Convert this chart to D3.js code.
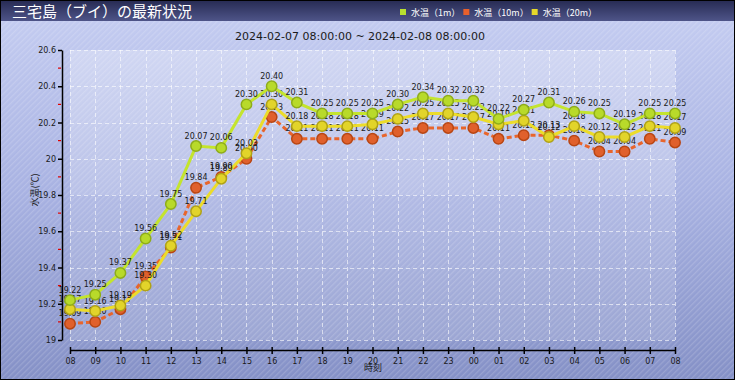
<!DOCTYPE html>
<html><head><meta charset="utf-8">
<script src="https://cdn.jsdelivr.net/npm/d3@7/dist/d3.min.js"></script>
<style>html,body{margin:0;padding:0;background:#fff}svg{display:block}</style>
</head><body><div id="chart"></div>
<script>
const hours = ["08","09","10","11","12","13","14","15","16","17","18","19","20","21","22","23","00","01","02","03","04","05","06","07","08"];
const temp1m  = [19.22,19.25,19.37,19.56,19.75,20.07,20.06,20.30,20.40,20.31,20.25,20.25,20.25,20.30,20.34,20.32,20.32,20.22,20.27,20.31,20.26,20.25,20.19,20.25,20.25];
const temp10m = [19.09,19.10,19.17,19.35,19.51,19.84,19.90,20.00,20.23,20.11,20.11,20.11,20.11,20.15,20.17,20.17,20.17,20.11,20.13,20.13,20.10,20.04,20.04,20.11,20.09];
const temp20m = [19.17,19.16,19.19,19.30,19.52,19.71,19.89,20.03,20.30,20.18,20.18,20.18,20.19,20.22,20.25,20.25,20.23,20.19,20.21,20.12,20.18,20.12,20.12,20.18,20.17];
const yTicks = [19,19.2,19.4,19.6,19.8,20,20.2,20.4,20.6];
const yTickLabels = ["19","19.2","19.4","19.6","19.8","20","20.2","20.4","20.6"];
const yMinor = [19.1,19.3,19.5,19.7,19.9,20.1,20.3,20.5];
const seriesNames = ["水温（1m）","水温（10m）","水温（20m）"];
const titleText = "三宅島（ブイ）の最新状況";
const subtitleText = "2024-02-07 08:00:00 ~ 2024-02-08 08:00:00";

const W = 735, H = 380;
const svg = d3.select("#chart").append("svg").attr("width", W).attr("height", H);
const defs = svg.append("defs");

const bg = defs.append("linearGradient").attr("id","bg").attr("x1",0).attr("y1",0).attr("x2",0).attr("y2",1);
bg.append("stop").attr("offset","0%").attr("stop-color","#c6cef2");
bg.append("stop").attr("offset","50%").attr("stop-color","#a8b2e2");
bg.append("stop").attr("offset","100%").attr("stop-color","#8490c6");

const tb = defs.append("linearGradient").attr("id","tb").attr("x1",0).attr("y1",0).attr("x2",0).attr("y2",1);
tb.append("stop").attr("offset","0%").attr("stop-color","#262a52");
tb.append("stop").attr("offset","100%").attr("stop-color","#4e5488");

const pat = defs.append("pattern").attr("id","stripes").attr("patternUnits","userSpaceOnUse")
  .attr("width",4).attr("height",4).attr("patternTransform","rotate(45)");
pat.append("rect").attr("width",1.3).attr("height",4).attr("fill","#ffffff").attr("fill-opacity",0.16);

const pg = defs.append("linearGradient").attr("id","pg").attr("x1",0).attr("y1",0).attr("x2",0).attr("y2",1);
pg.append("stop").attr("offset","0%").attr("stop-color","#ffffff").attr("stop-opacity",0.28);
pg.append("stop").attr("offset","50%").attr("stop-color","#ffffff").attr("stop-opacity",0.2);
pg.append("stop").attr("offset","50%").attr("stop-color","#ffffff").attr("stop-opacity",0.12);
pg.append("stop").attr("offset","100%").attr("stop-color","#ffffff").attr("stop-opacity",0.14);

svg.append("rect").attr("width",W).attr("height",H).attr("fill","url(#bg)");
svg.append("rect").attr("width",W).attr("height",H).attr("fill","url(#stripes)");

const x = d3.scaleLinear().domain([0, hours.length-1]).range([70, 675]);
const y = d3.scaleLinear().domain([19, 20.6]).range([340, 50]);

// plot area
svg.append("rect").attr("x",x(0)).attr("y",y(20.6)).attr("width",x(hours.length-1)-x(0)).attr("height",y(19)-y(20.6)).attr("fill","url(#pg)");

// grid
const grid = svg.append("g").attr("stroke","#ffffff").attr("stroke-opacity",0.6).attr("stroke-dasharray","4,3").attr("stroke-width",1);
grid.selectAll("line.v").data(d3.range(hours.length)).join("line")
  .attr("x1",d=>Math.round(x(d))+0.5).attr("x2",d=>Math.round(x(d))+0.5).attr("y1",y(20.6)).attr("y2",y(19));
grid.selectAll("line.h").data(yTicks).join("line")
  .attr("y1",d=>Math.round(y(d))+0.5).attr("y2",d=>Math.round(y(d))+0.5).attr("x1",x(0)).attr("x2",x(hours.length-1));

// title bar
svg.append("rect").attr("width",W).attr("height",21).attr("fill","url(#tb)");
svg.append("text").attr("x",12).attr("y",16.5).attr("fill","#ffffff")
  .attr("font-family","'Noto Sans CJK JP'").attr("font-size",15).text(titleText);

// legend
const colors = {line:["#c4e42e","#e8652c","#ecdc2a"], fill:["#b8da2a","#e0602c","#e2d42a"], stroke:["#8eac1a","#b84614","#b0a216"]};
const legendColors = ["#b8e030","#e8602c","#e6d82a"];
let lx = 400;
seriesNames.forEach((n,i)=>{
  svg.append("rect").attr("x",lx).attr("y",9).attr("width",6).attr("height",6).attr("fill",legendColors[i]);
  const t = svg.append("text").attr("x",lx+11).attr("y",15.5).attr("fill","#ffffff")
    .attr("font-family","'Noto Sans CJK JP'").attr("font-size",9).text(n);
  lx += 11 + t.node().getComputedTextLength() + 3;
});

// subtitle
svg.append("text").attr("x",360).attr("y",40).attr("text-anchor","middle").attr("fill","#1a1a1a")
  .attr("font-family","'DejaVu Sans'").attr("font-size",11).text(subtitleText);

// y axis
const yAxis = svg.append("g").attr("transform","translate(62,0)")
  .call(d3.axisLeft(y).tickValues(yTicks).tickFormat((d,i)=>yTickLabels[i]).tickSize(4).tickSizeOuter(0).tickPadding(2));
yAxis.select(".domain").attr("stroke","#000").attr("stroke-width",1.5);
yAxis.selectAll(".tick line").attr("stroke","#000").attr("stroke-width",1.5);
yAxis.selectAll("text").attr("font-family","'DejaVu Sans'").attr("font-size",8).attr("fill","#1a1a1a");
svg.append("g").selectAll("line").data(yMinor).join("line")
  .attr("x1",58).attr("x2",61).attr("y1",d=>y(d)).attr("y2",d=>y(d)).attr("stroke","#e00000").attr("stroke-width",1.2);

// x axis
const xAxis = svg.append("g").attr("transform","translate(0,350)")
  .call(d3.axisBottom(x).tickValues(d3.range(hours.length)).tickFormat(i=>hours[i]).tickSize(4).tickSizeOuter(0).tickPadding(4));
xAxis.select(".domain").attr("stroke","#000").attr("stroke-width",1.5);
xAxis.selectAll(".tick line").attr("stroke","#000").attr("stroke-width",1.5).attr("y1",-3).attr("y2",4);
xAxis.selectAll("text").attr("font-family","'DejaVu Sans'").attr("font-size",8).attr("fill","#1a1a1a");

svg.append("text").attr("x",373).attr("y",371).attr("text-anchor","middle").attr("fill","#1a1a1a")
  .attr("font-family","'Noto Sans CJK JP'").attr("font-size",9).text("時刻");
svg.append("text").attr("transform","translate(38,190) rotate(-90)").attr("text-anchor","middle").attr("fill","#1a1a1a")
  .attr("font-family","'Noto Sans CJK JP'").attr("font-size",9).text("水温(℃)");

// series: draw 10m, 20m, then 1m on top
const seriesData = [temp1m, temp10m, temp20m];
const line = d3.line().x((d,i)=>x(i)).y(d=>y(d));
[1,2,0].forEach(si=>{
  const data = seriesData[si];
  const g = svg.append("g");
  g.append("path").datum(data).attr("d",line).attr("fill","none")
    .attr("stroke",colors.line[si]).attr("stroke-width",3)
    .attr("stroke-dasharray", si===1 ? "5,3" : null);
  g.selectAll("circle").data(data).join("circle")
    .attr("cx",(d,i)=>x(i)).attr("cy",d=>y(d)).attr("r",5.2)
    .attr("fill",colors.fill[si]).attr("stroke",colors.stroke[si]).attr("stroke-width",1.5);
  g.selectAll("text").data(data).join("text")
    .attr("x",(d,i)=>x(i)).attr("y",d=>y(d)-7.5).attr("text-anchor","middle")
    .attr("font-family","'DejaVu Sans'").attr("font-size",8).attr("fill","#1a1a1a")
    .text(d=>d.toFixed(2));
});

// border
svg.append("rect").attr("x",0.5).attr("y",0.5).attr("width",W-1).attr("height",H-1).attr("fill","none").attr("stroke","#000");
</script></body></html>
